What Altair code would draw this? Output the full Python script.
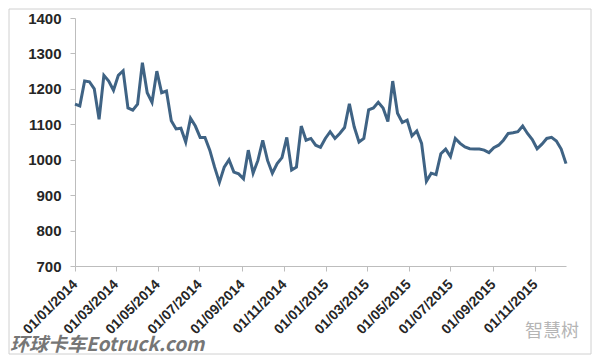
import altair as alt
import pandas as pd

# weekly prices (first week of Jan 2014 to mid Dec 2015)
prices = [
    1157, 1152, 1222, 1220, 1200, 1114, 1238, 1222, 1196, 1238,
    1251, 1146, 1140, 1157, 1274, 1189, 1162, 1250, 1189, 1194,
    1110, 1087, 1089, 1050, 1117, 1095, 1063,
    1063, 1027, 979, 936, 979, 1000, 965, 960, 946, 1027,
    962, 998, 1055, 998, 962, 989, 1006, 1063, 971, 979,
    1095, 1055, 1060, 1041, 1035, 1060,
    1079, 1060, 1074, 1091, 1158, 1093, 1050, 1060, 1141, 1146,
    1162, 1146, 1108, 1222, 1131, 1105, 1112, 1067, 1081, 1046,
    939, 962, 958, 1017, 1030, 1009,
    1060, 1046, 1036, 1031, 1030, 1030, 1027, 1020, 1034, 1041,
    1055, 1074, 1076, 1079, 1095, 1074, 1057, 1031, 1044, 1060,
    1063, 1053, 1030, 989,
]
start_date = "2014-01-01"
tick_dates = [
    "2014-01-01", "2014-03-01", "2014-05-01", "2014-07-01", "2014-09-01",
    "2014-11-01", "2015-01-01", "2015-03-01", "2015-05-01", "2015-07-01",
    "2015-09-01", "2015-11-01",
]
y_ticks = [700, 800, 900, 1000, 1100, 1200, 1300, 1400]
watermark_left = "环球卡车Eotruck.com"
watermark_right = "智慧树"

dates = pd.date_range(start_date, periods=len(prices), freq="7D")
df = pd.DataFrame({"date": dates, "price": prices})


def dt(ts):
    return alt.DateTime(year=int(ts.year), month=int(ts.month), date=int(ts.day))


tick_vals = [dt(pd.Timestamp(d)) for d in tick_dates]

axis_gray = "#bdbdbd"
label_color = "#262626"

line = alt.Chart(df).mark_line(color="#3f6384", strokeWidth=3, clip=False).encode(
    x=alt.X(
        "date:T",
        scale=alt.Scale(domain=[dt(dates[0]), dt(dates[-1])], nice=False),
        axis=alt.Axis(
            values=tick_vals,
            format="%d/%m/%Y",
            labelAngle=-45,
            labelAlign="right",
            labelBaseline="middle",
            grid=False,
            title=None,
            domainColor=axis_gray,
            tickColor=axis_gray,
            tickSize=5,
            labelPadding=11,
            labelFontSize=14,
            labelFont="Liberation Sans",
            labelFontWeight="bold",
            labelColor=label_color,
            labelOverlap=False,
            labelFlush=False,
        ),
    ),
    y=alt.Y(
        "price:Q",
        scale=alt.Scale(domain=[700, 1400], nice=False, zero=False),
        axis=alt.Axis(
            values=y_ticks,
            format="d",
            grid=False,
            title=None,
            domainColor=axis_gray,
            tickColor=axis_gray,
            tickSize=5,
            labelPadding=9,
            labelFontSize=15,
            labelFont="Liberation Sans",
            labelFontWeight="bold",
            labelColor=label_color,
        ),
    ),
)

blank = alt.Data(values=[{"k": 0}])

border = alt.Chart(blank).mark_rect(fill="transparent", stroke="#d0d0d0", strokeWidth=1, clip=False).encode(
    x=alt.value(-66), x2=alt.value(516), y=alt.value(-9), y2=alt.value(336)
)

wm_left = alt.Chart(blank).mark_text(
    text=watermark_left, font="Noto Sans CJK SC", fontSize=19, fontWeight="bold",
    fontStyle="italic", color="#555555", opacity=0.8, align="left", baseline="middle", clip=False
).encode(x=alt.value(-65), y=alt.value(327))

wm_right = alt.Chart(blank).mark_text(
    text=watermark_right, font="Noto Sans CJK SC", fontSize=18,
    color="#b5b5b5", align="left", baseline="middle", clip=False
).encode(x=alt.value(450), y=alt.value(314))

chart = alt.layer(border, line, wm_left, wm_right).properties(
    width=491,
    height=248,
    autosize=alt.AutoSizeParams(type="none"),
    padding={"left": 67, "top": 10, "right": 26, "bottom": 89},
).configure_view(strokeWidth=0)

chart.save("out.html", embed_options={"renderer": "svg", "actions": False})
